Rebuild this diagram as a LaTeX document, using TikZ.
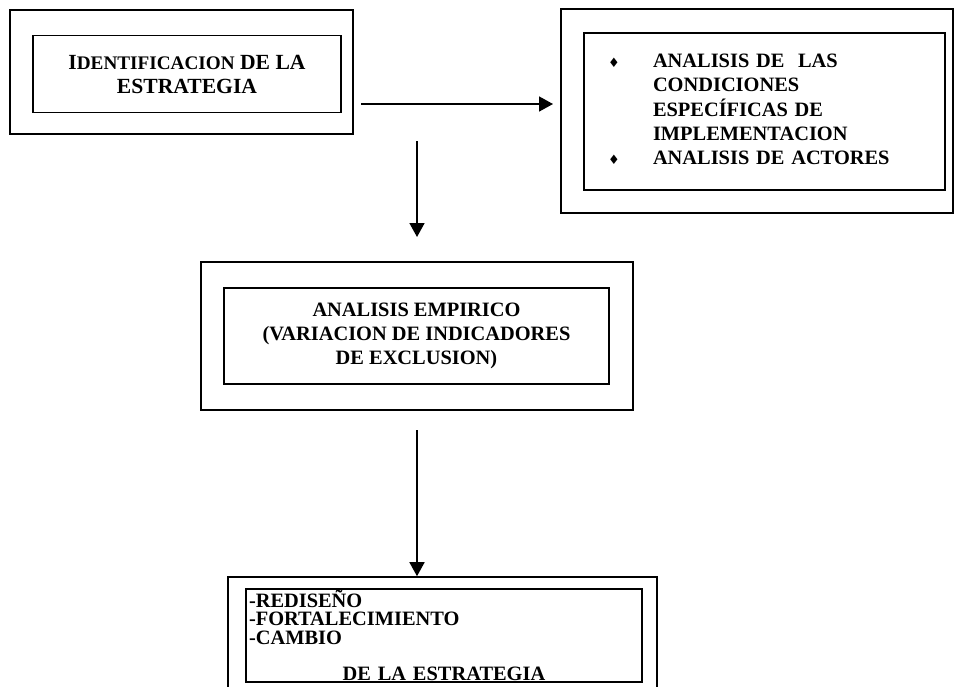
\documentclass[tikz,border=0pt]{standalone}
\usepackage{fontspec}
\setmainfont{Liberation Serif}
\newfontfamily\symfont{DejaVu Sans}
\usetikzlibrary{arrows.meta}

\begin{document}
\begin{tikzpicture}[x=0.5pt, y=-0.5pt,
    marco/.style={draw, line width=0.8pt, inner sep=0pt},
    caja/.style={draw, line width=0.8pt, inner sep=0pt, align=center, font=\bfseries\fontsize{10.2}{12}\selectfont},
    flecha/.style={line width=0.8pt, -{Triangle[length=7pt, width=7.5pt]}}]
    \useasboundingbox (0, 0) rectangle (956, 686);
    % boxes
    \node[marco, minimum width=171.5pt, minimum height=62pt] (identout) at (181.5, 72) {};
    \node[caja, font=\bfseries\fontsize{10.8}{12}\selectfont, minimum width=154pt, minimum height=38.5pt] (ident) at (187, 74)
      {I{\fontsize{9.6}{12}\selectfont DENTIFICACION} DE LA\\ESTRATEGIA};
    \node[marco, minimum width=196pt, minimum height=102pt] (condout) at (757, 111) {};
    \node[caja, align=left, inner xsep=12pt, text width=156.5pt, minimum height=78.5pt] (cond) at (764.5, 111.5)
      {\begin{tabular}{@{}p{22.5pt}@{}l@{}}
        {\symfont\fontsize{6.5}{6}\selectfont ♦} & ANALISIS DE\ \ LAS\\
         & CONDICIONES\\
         & ESPECÍFICAS DE\\
         & IMPLEMENTACION\\
        {\symfont\fontsize{6.5}{6}\selectfont ♦} & ANALISIS DE ACTORES
      \end{tabular}};
    \node[marco, minimum width=216pt, minimum height=74pt] (empout) at (417, 336) {};
    \node[caja, minimum width=192.5pt, minimum height=48pt] (emp) at (416.5, 336)
      {ANALISIS EMPIRICO\\(VARIACION DE INDICADORES\\DE EXCLUSION)};
    \node[marco, minimum width=214.5pt, minimum height=60pt] (redout) at (442.5, 637) {};
    \node[caja, align=left, font=\bfseries\fontsize{10.2}{9.2}\selectfont, inner xsep=1.5pt, text width=195pt, minimum height=46.5pt] (red) at (444, 635.5)
      {-REDISEÑO\\-FORTALECIMIENTO\\-CAMBIO\\[9.2pt]\makebox[\linewidth]{DE LA ESTRATEGIA}};
    % arrows
    \coordinate (h0) at (361, 104);
    \coordinate (h1) at (553, 104);
    \coordinate (v0) at (417, 141);
    \coordinate (v1) at (417, 237);
    \coordinate (w0) at (417, 430);
    \draw[flecha] (h0) -- (h1);
    \draw[flecha] (v0) -- (v1);
    \draw[flecha] (w0) -- (w0 |- redout.north);
  \end{tikzpicture}
\end{document}
